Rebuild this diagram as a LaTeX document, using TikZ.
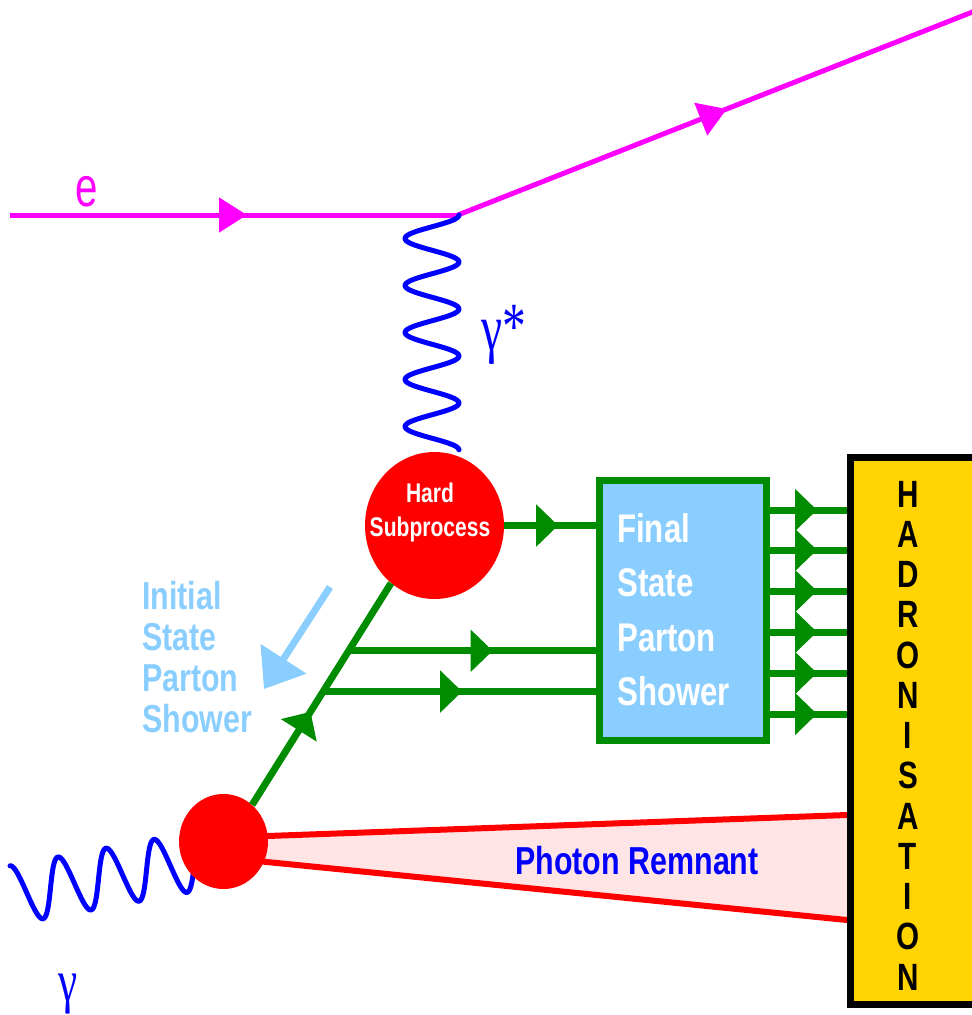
\documentclass[tikz,border=0pt]{standalone}
\usepackage{fontspec}
\usetikzlibrary{arrows.meta,decorations.markings,shapes.geometric}
\newfontfamily\cond{Liberation Sans}[FakeStretch=0.78]
\newfontfamily\econd{Liberation Sans}[FakeStretch=0.72]
\newfontfamily\gser{Liberation Serif}[FakeStretch=0.72]
\definecolor{mag}{RGB}{255,0,255}
\definecolor{grn}{RGB}{0,140,0}
\definecolor{lblue}{RGB}{138,206,255}
\definecolor{gold}{RGB}{255,212,0}
\definecolor{pinkf}{RGB}{255,228,230}
\definecolor{pblue}{RGB}{0,0,255}
\definecolor{pred}{RGB}{255,0,0}
\tikzset{
  fline/.style={draw=mag,line width=5pt},
  gline/.style={draw=grn,line width=7pt},
  wline/.style={draw=pblue,line width=5pt,line join=round,line cap=round},
  rline/.style={draw=pred,line width=6pt},
  blob/.style={shape=ellipse,fill=pred,draw=none,inner sep=0pt},
  farrow/.style={postaction={decorate},decoration={markings,mark=at position #1 with {\arrow{Triangle[length=28pt,width=34pt]}}}},
  garrow/.style={postaction={decorate},decoration={markings,mark=at position #1 with {\arrow{Triangle[length=22pt,width=41pt]}}}},
  boldtxt/.style={inner sep=0pt,font=\cond\bfseries\fontsize{#1}{#1}\selectfont},
}
\begin{document}
\begin{tikzpicture}[x=1pt,y=-1pt]
\useasboundingbox (0,0) rectangle (972,1015);
\clip (0,0) rectangle (972,1015);
% electron
\coordinate (ein) at (10,215);
\coordinate (v) at (458,215);
\coordinate (eout) at (980,9);
\draw[fline,farrow=237pt] (ein) -- (v);
\draw[fline,farrow=289pt] (v) -- (eout);
\node[inner sep=0pt,font=\econd\fontsize{56pt}{56pt}\selectfont,text=mag,anchor=base] (elab) at (87,206) {e};
% virtual photon
\draw[wline] plot[domain=0:1,samples=200,variable=\t] ({432+27*cos(1800*\t)},{215+235*\t});
\node[inner sep=0pt,font=\gser\fontsize{66pt}{66pt}\selectfont,text=pblue,anchor=base west] (gslab) at (481,350) {γ\raisebox{2pt}{*}};
% photon remnant
\coordinate (r1) at (240,837);
\coordinate (r2) at (855,814.7);
\coordinate (r3) at (855,920.8);
\coordinate (r4) at (240,859.3);
\fill[pinkf] (r1) -- (r2) -- (r3) -- (r4) -- cycle;
\draw[rline] (r1) -- (r2);
\draw[rline] (r4) -- (r3);
% incoming photon
\draw[wline] plot[domain=-360:990,samples=300,variable=\t]
  ({58+0.13333*\t+4.5*(1-cos(\t))},{886.5-0.183*(0.13333*\t+4.5*(1-cos(\t)))-29.5*cos(\t)});
\node[inner sep=0pt,font=\gser\fontsize{60pt}{60pt}\selectfont,text=pblue,anchor=base] (glab) at (68,1001) {γ};
% blobs
\node[blob,minimum width=139pt,minimum height=147pt] (hard) at (434.5,525.5) {};
\node[boldtxt=27pt,text=white,align=center,anchor=base,font=\cond\bfseries\fontsize{27pt}{34pt}\selectfont] (hardtxt) at (430,536) {Hard\\Subprocess};
\node[blob,minimum width=89pt,minimum height=95pt] (low) at (223.5,841.5) {};
% final state box
\node[draw=grn,line width=7pt,fill=lblue,minimum width=167pt,minimum height=260pt,inner sep=0pt] (fsps) at (683,610.5) {};
\node[boldtxt=40pt,text=white,align=left,anchor=base west,font=\cond\bfseries\fontsize{40pt}{54.5pt}\selectfont] (fstxt) at (617,705.5) {Final\\State\\Parton\\Shower};
% hadronisation box
\node[draw=black,line width=7pt,fill=gold,minimum width=150pt,minimum height=547pt,inner sep=0pt,anchor=north west] (hadr) at (847,454) {};
\node[boldtxt=38pt,align=center,anchor=base,font=\cond\bfseries\fontsize{38pt}{40.25pt}\selectfont] (hadtxt) at (908,990) {H\\A\\D\\R\\O\\N\\I\\S\\A\\T\\I\\O\\N};
% partons
\draw[gline,garrow=0.42] (low.52) -- (hard.233) coordinate[pos=0.695] (b1) coordinate[pos=0.511] (b2);
\draw[gline,garrow=144pt] (b1) -- (b1 -| fsps.west);
\draw[gline,garrow=139pt] (b2) -- (b2 -| fsps.west);
\draw[gline,garrow=54pt] (hard.east) -- (hard.east -| fsps.west);
\foreach \yy in {510,550,591,632,673,714}
  \draw[gline,garrow=47pt] (fsps.east |- 0,\yy) -- (hadr.west |- 0,\yy);
% initial state label
\node[boldtxt=39pt,text=lblue,align=left,anchor=base west,font=\cond\bfseries\fontsize{39pt}{40.7pt}\selectfont] (istxt) at (142,732) {Initial\\State\\Parton\\Shower};
\coordinate (isa) at (330,587);
\coordinate (isb) at (264,689);
\draw[draw=lblue,line width=7pt,-{Triangle[length=36pt,width=53pt]}] (isa) -- (isb);
\node[boldtxt=39pt,text=pblue] (remtxt) at (637,861) {Photon Remnant};
\end{tikzpicture}
\end{document}
